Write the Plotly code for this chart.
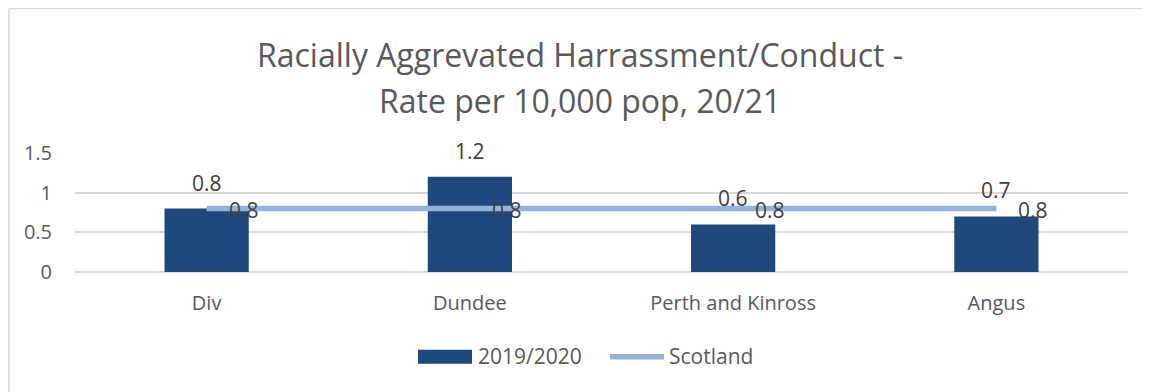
import plotly.graph_objects as go

categories = ["Div", "Dundee", "Perth and Kinross", "Angus"]
rate_2019_2020 = [0.8, 1.2, 0.6, 0.7]
scotland = [0.8, 0.8, 0.8, 0.8]
y_ticks = [0, 0.5, 1, 1.5]
y_tick_labels = ["0", "0.5", "1", "1.5"]
title_lines = ["Racially Aggrevated Harrassment/Conduct -", "Rate per 10,000 pop, 20/21"]
legend_names = ["2019/2020", "Scotland"]

OFF = 8  # page body margin
W, H = 1150 - OFF, 392 - OFF
L, R, T, B = 75 - OFF, 1128 - OFF, 153.3 - OFF, 271.7 - OFF
FONT = "Open Sans"
TXT = "#595959"
BAR = "#1F497D"
LINE = "#95B3D7"
GRID = "#D9D9D9"


def px(x):
    # page x -> paper
    return (x - OFF - L) / (R - L)


def py(y):
    # page y -> paper
    return (B - (y - OFF)) / (B - T)


fig = go.Figure()
fig.add_trace(go.Bar(x=categories, y=rate_2019_2020, name=legend_names[0],
                     marker=dict(color=BAR, line=dict(width=0)), width=0.32,
                     showlegend=False))
fig.add_trace(go.Scatter(x=categories, y=scotland, name=legend_names[1], mode="lines",
                         line=dict(color=LINE, width=5.5), showlegend=False))

ann = []
for c, v in zip(categories, rate_2019_2020):
    ann.append(dict(x=c, y=v, xref="x", yref="y", text=f"{v:g}", showarrow=False,
                    xanchor="center", yanchor="middle", yshift=26,
                    font=dict(family=FONT, size=21, color="#404040")))
for c, v in zip(categories, scotland):
    ann.append(dict(x=c, y=v, xref="x", yref="y", text=f"{v:g}", showarrow=False,
                    xanchor="left", yanchor="middle", xshift=20, yshift=-1,
                    font=dict(family=FONT, size=21, color="#404040")))
# title lines
for txt, yc in zip(title_lines, [55, 101]):
    ann.append(dict(x=px(580), y=py(yc), xref="paper", yref="paper", text=txt,
                    showarrow=False, xanchor="center", yanchor="middle",
                    font=dict(family=FONT, size=32, color=TXT)))
# legend texts
ann.append(dict(x=px(476), y=py(355), xref="paper", yref="paper", text=legend_names[0],
                showarrow=False, xanchor="left", yanchor="middle",
                font=dict(family=FONT, size=21, color=TXT)))
ann.append(dict(x=px(667), y=py(355), xref="paper", yref="paper", text=legend_names[1],
                showarrow=False, xanchor="left", yanchor="middle",
                font=dict(family=FONT, size=21, color=TXT)))

shapes = [
    # legend swatches
    dict(type="rect", xref="paper", yref="paper", x0=px(418), x1=px(472), y0=py(363), y1=py(349),
         fillcolor=BAR, line=dict(width=0)),
    dict(type="line", xref="paper", yref="paper", x0=px(610), x1=px(664), y0=py(356), y1=py(356),
         line=dict(color=LINE, width=5.5)),
    # chart border (left and top visible)
    dict(type="line", xref="paper", yref="paper", x0=px(OFF + 1), x1=px(1160), y0=py(9.5), y1=py(9.5),
         line=dict(color=GRID, width=1.5)),
    dict(type="line", xref="paper", yref="paper", x0=px(OFF + 1), x1=px(OFF + 1), y0=py(9.5), y1=py(400),
         line=dict(color=GRID, width=1.5)),
]

fig.update_layout(
    width=W, height=H,
    margin=dict(l=L, r=W - R, t=T, b=H - B, pad=0),
    paper_bgcolor="white", plot_bgcolor="white",
    font=dict(family=FONT, color=TXT),
    annotations=ann,
    shapes=shapes,
    showlegend=False,
    xaxis=dict(type="category", showgrid=False, showline=False, ticks="",
               tickfont=dict(family=FONT, size=20, color=TXT), ticklabelstandoff=17),
    yaxis=dict(range=[0, 1.5], tickvals=y_ticks, ticktext=y_tick_labels, showgrid=True,
               gridcolor=GRID, gridwidth=1.5, zeroline=True, zerolinecolor=GRID,
               zerolinewidth=1.5, showline=False, ticks="",
               tickfont=dict(family=FONT, size=20, color=TXT), ticklabelstandoff=22),
)

fig.write_html("out.html")
